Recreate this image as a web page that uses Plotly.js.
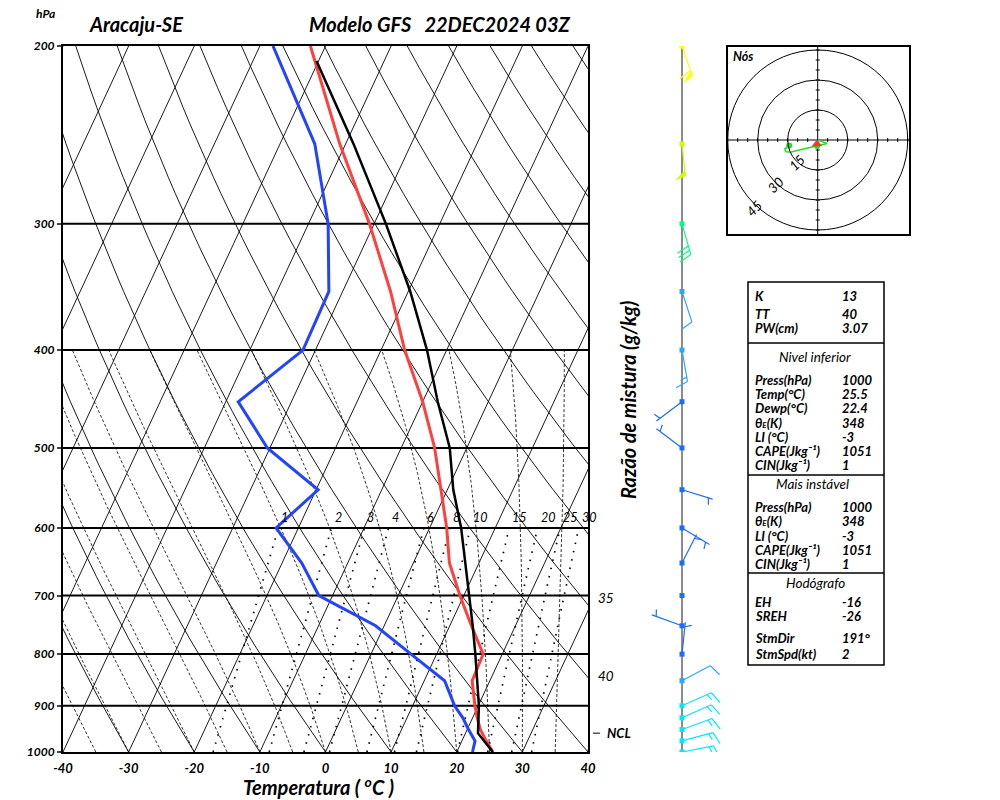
<!DOCTYPE html>
<html><head><meta charset="utf-8">
<script src="https://cdn.plot.ly/plotly-3.0.1.min.js"></script>
<style>body{margin:0;background:#fff;} #chart{width:1000px;height:800px;}</style>
</head><body><div id="chart"></div>
<script>
// ---------------- DATA ----------------
const pressureLevels = [1000,975,950,925,900,850,800,750,700,650,600,550,500,450,400,350,300,250,200];
const temperature   = [25.5,23.7,22.0,20.7,19.5,17.3,17.1,13.3,9.4,5.5,2.6,-1.0,-4.9,-10.0,-16.4,-22.7,-30.7,-40.9,-52.3];
const dewpoint      = [22.4,22.0,20.2,18.5,16.4,13.1,6.1,-1.3,-12.1,-17.0,-23.4,-19.7,-30.4,-38.1,-31.9,-32.1,-37.0,-44.7,-58.0];
const parcelPressure = [1000,958,900,850,800,750,700,650,600,550,500,450,400,350,300,250,207];
const parcelTemp     = [25.5,21.9,20.1,18.1,15.9,13.5,10.8,7.9,4.8,0.9,-2.6,-7.7,-13.0,-19.7,-28.2,-38.8,-50.3];
const windDir = [79,75,70,66,66,62,6,290,0,27,121,107,307,233,170,162,164,174,161];
const windSpd = [14.5,17,17,15,15,11,3,5,0,6,3,3,7,7,13,12,30,50,60];
const nclPressure = 958;
const hodoLevels = 9; // 1000 .. 700 hPa
const stormDir = 191, stormSpd = 2;

const pressureTicks = [200,300,400,500,600,700,800,900,1000];
const tempTicks = [-40,-30,-20,-10,0,10,20,30,40];
const mixingRatios = [1,2,3,4,6,8,10,15,20,25,30];
const hodoRings = [15,30,45];

const THE = "θ<span style='font-size:8px'>E</span>(K)";
const tableTop = [["K","13"],["TT","40"],["PW(cm)","3.07"]];
const tableLower = [["Press(hPa)","1000"],["Temp(°C)","25.5"],["Dewp(°C)","22.4"],[THE,"348"],["LI (°C)","-3"],["CAPE(Jkg⁻¹)","1051"],["CIN(Jkg⁻¹)","1"]];
const tableUnstable = [["Press(hPa)","1000"],[THE,"348"],["LI (°C)","-3"],["CAPE(Jkg⁻¹)","1051"],["CIN(Jkg⁻¹)","1"]];
const tableHodo = [["EH","-16"],["SREH","-26"],["StmDir","191°"],["StmSpd(kt)","2"]];

// ---------------- GEOMETRY ----------------
const W=1000,H=800, pL=63,pR=588,pT=46,pB=752;
const K_SKEW = 50/Math.log(5);
const pxPerLn = (pB-pT)/Math.log(5);
const fx = v=>v/W, fy = v=>1-v/H;
function skewX(T,p){ return T + K_SKEW*Math.log(1000/p); }
function tdFromW(w,p){ const e=w*p/(622+w); const l=Math.log(e/6.112); return 243.5*l/(17.67-l); }
function dTdp(Tk,p){ const Tc=Tk-273.15; const es=6.112*Math.exp(17.67*Tc/(Tc+243.5)); const rs=0.622*es/(p-es);
  const Rd=287.04,Cp=1005.7,Lv=2.501e6; return (Rd*Tk+Lv*rs)/(p*(Cp+Lv*Lv*rs*0.622/(Rd*Tk*Tk))); }

const F = (size,bold,italic)=>({family:'Lato, "Open Sans", sans-serif', size:size, color:'#000', weight: bold?'bold':'normal', style: italic?'italic':'normal'});
const traces=[];
function fam(xs,ys,line,xa,ya){ traces.push({type:'scatter',mode:'lines',x:xs,y:ys,line:line,xaxis:xa||'x',yaxis:ya||'y',hoverinfo:'skip',connectgaps:false}); }

// isotherms
{ const xs=[],ys=[]; for(let T=-120;T<=40;T+=10){ xs.push(skewX(T,1000),skewX(T,200),null); ys.push(1000,200,null);} fam(xs,ys,{color:'#000',width:0.9}); }
// dry adiabats
{ const xs=[],ys=[]; for(let th=-40;th<=200;th+=10){ for(let p=1000;p>=200;p-=10){ xs.push(skewX((th+273.15)*Math.pow(p/1000,0.2857)-273.15,p)); ys.push(p);} xs.push(null); ys.push(null);} fam(xs,ys,{color:'#000',width:0.9}); }
// moist adiabats
{ const xs=[],ys=[]; for(let tw=-40;tw<=40;tw+=5){ let T=tw+273.15,p=1000; xs.push(skewX(tw,1000)); ys.push(1000);
    while(p>400){ const dp=-5; const k1=dTdp(T,p); const k2=dTdp(T+k1*dp/2,p+dp/2); T+=k2*dp; p+=dp; xs.push(skewX(T-273.15,p)); ys.push(p);} xs.push(null); ys.push(null);} 
  fam(xs,ys,{color:'#000',width:0.8,dash:'3px,2px'}); }
// mixing ratio
{ const xs=[],ys=[]; mixingRatios.forEach(w=>{ for(let p=1000;p>=600;p-=10){ xs.push(skewX(tdFromW(w,p),p)); ys.push(p);} xs.push(null); ys.push(null);});
  fam(xs,ys,{color:'#000',width:1.7,dash:'1.5px,7px'}); }
// isobars
{ const xs=[],ys=[]; pressureTicks.slice(1,-1).forEach(p=>{xs.push(-40,40,null); ys.push(p,p,null);}); fam(xs,ys,{color:'#000',width:2}); }

// profiles
traces.push({type:'scatter',mode:'lines',x:dewpoint.map((t,i)=>skewX(t,pressureLevels[i])),y:pressureLevels,line:{color:'#2244ff',width:3},hoverinfo:'skip'});
traces.push({type:'scatter',mode:'lines',x:temperature.map((t,i)=>skewX(t,pressureLevels[i])),y:pressureLevels,line:{color:'#ff4040',width:3},hoverinfo:'skip'});
traces.push({type:'scatter',mode:'lines',x:parcelTemp.map((t,i)=>skewX(t,parcelPressure[i])),y:parcelPressure,line:{color:'#000',width:2.5},hoverinfo:'skip'});

// NCL tick
fam([593,600],[nclPressure,nclPressure],{color:'#000',width:1},'x2','y');

// ---------------- WIND BARBS ----------------
const BX=682, SHAFT=32, FULL=13, HALF=7, SP=4.5, ANG=72*Math.PI/180;
function speedColor(s){ if(s>=55) return '#ffff00'; if(s>=40) return '#ccff00'; if(s>=20) return '#00ff80'; if(s>=14) return '#00e8ff'; if(s>=10) return '#2aa8ff'; return '#1a6cff'; }
fam([BX,BX],[1000,200],{color:'#666',width:1.5},'x2','y');
pressureLevels.forEach((p0,i)=>{
  const spd=windSpd[i]; if(spd<=0) return;
  const d=windDir[i]*Math.PI/180; const sx=Math.sin(d), sy=Math.cos(d);
  const fxv=sx*Math.cos(ANG)+sy*Math.sin(ANG), fyv=-sx*Math.sin(ANG)+sy*Math.cos(ANG);
  const col=speedColor(spd);
  const P=(ox,oy)=>[BX+ox, p0*Math.exp(-oy/pxPerLn)];
  const xs=[],ys=[]; const add=(a)=>{xs.push(a[0]);ys.push(a[1]);};
  add(P(0,0)); add(P(SHAFT*sx,SHAFT*sy)); xs.push(null); ys.push(null);
  let r=Math.round(spd/5)*5; let n50=Math.floor(r/50); r-=n50*50; let n10=Math.floor(r/10); r-=n10*10; let n5=r>=5?1:0;
  let pos=0;
  for(let k=0;k<n50;k++){
    const a=SHAFT-pos, b=SHAFT-pos-5;
    const A=[a*sx,a*sy], B=[b*sx,b*sy], C=[A[0]+FULL*0.75*fxv, A[1]+FULL*0.75*fyv];
    const tri=[P(A[0],A[1]),P(C[0],C[1]),P(B[0],B[1]),P(A[0],A[1])];
    traces.push({type:'scatter',mode:'lines',x:tri.map(t=>t[0]),y:tri.map(t=>t[1]),fill:'toself',fillcolor:col,line:{color:col,width:1},xaxis:'x2',yaxis:'y',hoverinfo:'skip'});
    pos+=6;
  }
  for(let k=0;k<n10;k++){ const a=SHAFT-pos; add(P(a*sx,a*sy)); add(P(a*sx+FULL*fxv,a*sy+FULL*fyv)); xs.push(null); ys.push(null); pos+=SP; }
  if(n5){ if(pos===0) pos=SP; const a=SHAFT-pos; add(P(a*sx,a*sy)); add(P(a*sx+HALF*fxv,a*sy+HALF*fyv)); xs.push(null); ys.push(null); }
  fam(xs,ys,{color:col,width:1.2},'x2','y');
});
traces.push({type:'scatter',mode:'markers',x:pressureLevels.map(()=>BX),y:pressureLevels,marker:{symbol:'square',size:5,color:windSpd.map(speedColor)},xaxis:'x2',yaxis:'y',hoverinfo:'skip'});

// ---------------- HODOGRAPH ----------------
{ const xs=[],ys=[]; for(let k=-45;k<=45;k+=5){ if(k===0) continue; xs.push(k,k,null,-1,1,null); ys.push(-1,1,null,k,k,null);} 
  xs.push(-46,46,null,0,0); ys.push(0,0,null,-47.5,47); fam(xs,ys,{color:'#000',width:1},'x3','y3'); }
const hu=[],hv=[];
for(let i=0;i<hodoLevels;i++){ const d=windDir[i]*Math.PI/180; hu.push(-windSpd[i]*Math.sin(d)); hv.push(-windSpd[i]*Math.cos(d)); }
traces.push({type:'scatter',mode:'lines',x:hu,y:hv,line:{color:'#22dd22',width:1.5},xaxis:'x3',yaxis:'y3',hoverinfo:'skip'});
traces.push({type:'scatter',mode:'markers',x:[hu[0],hu[6]],y:[hv[0],hv[6]],marker:{color:'#22dd22',size:6},xaxis:'x3',yaxis:'y3',hoverinfo:'skip'});
{ const d=stormDir*Math.PI/180; traces.push({type:'scatter',mode:'markers',x:[stormSpd*Math.sin(d)],y:[stormSpd*Math.cos(d)],marker:{symbol:'triangle-up',color:'#ff3333',size:9},xaxis:'x3',yaxis:'y3',hoverinfo:'skip'}); }

// ---------------- ANNOTATIONS & SHAPES ----------------
const ann=[]; const shapes=[];
const A=(text,x,y,opt)=>ann.push(Object.assign({text:text,x:fx(x),y:fy(y),xref:'paper',yref:'paper',showarrow:false,xanchor:'center',yanchor:'middle',borderpad:0,font:F(12,true,true)},opt||{}));
A('hPa',45,14,{font:F(12,true,true)});
A('Aracaju-SE',136,24,{font:F(20,true,true)});
A('Modelo GFS   22DEC2024 03Z',440,24,{font:F(20,true,true)});
A('Temperatura ( <sup>o</sup>C )',318,786,{font:F(20,true,true)});
A('Razão de mistura (g/kg)',628,400,{font:F(20,true,true),textangle:-90});
ann.push({text:'NCL',x:605,y:Math.log10(nclPressure),xref:'x2',yref:'y',showarrow:false,xanchor:'left',yanchor:'middle',font:F(13,true,true)});
ann.push({text:'35',x:fx(596),y:Math.log10(704),xref:'paper',yref:'y',showarrow:false,xanchor:'left',yanchor:'middle',font:F(13.5,false,true)});
ann.push({text:'40',x:fx(596),y:Math.log10(841),xref:'paper',yref:'y',showarrow:false,xanchor:'left',yanchor:'middle',font:F(13.5,false,true)});
mixingRatios.forEach(w=>ann.push({text:String(w),x:skewX(tdFromW(w,600),600),y:Math.log10(600),xref:'x',yref:'y',showarrow:false,xanchor:'left',yanchor:'bottom',xshift:1,yshift:1,font:F(12.5,false,true)}));
// hodograph
shapes.push({type:'rect',xref:'paper',yref:'paper',x0:fx(727),x1:fx(910),y0:fy(235),y1:fy(46),line:{color:'#000',width:2}});
hodoRings.forEach(r=>{ shapes.push({type:'circle',xref:'x3',yref:'y3',x0:-r,x1:r,y0:-r,y1:r,line:{color:'#000',width:1}});
  const a=227*Math.PI/180; ann.push({text:String(r),x:r*1.03*Math.cos(a),y:r*1.03*Math.sin(a),xref:'x3',yref:'y3',showarrow:false,textangle:-45,font:F(13.5,false,true)}); });
A('Nós',743,56,{font:F(12.5,true,true)});
// table
shapes.push({type:'rect',xref:'paper',yref:'paper',x0:fx(748),x1:fx(884),y0:fy(665),y1:fy(282),line:{color:'#000',width:1.5}});
[343,475,573].forEach(y=>shapes.push({type:'line',xref:'paper',yref:'paper',x0:fx(748),x1:fx(884),y0:fy(y),y1:fy(y),line:{color:'#000',width:1.5}}));
const TF=13;
const row=(pair,y)=>{ A(pair[0],754,y,{xanchor:'left',font:F(TF,true,true)}); A(pair[1],841,y,{xanchor:'left',font:F(TF,true,true)}); };
[296,314,328].forEach((y,i)=>row(tableTop[i],y));
A('Nivel inferior',815,357,{font:F(13.5,false,true)});
[380,394,408,423,437,451,465].forEach((y,i)=>row(tableLower[i],y));
A('Mais instável',812,484,{font:F(13.5,false,true)});
[507,521,536,550,564].forEach((y,i)=>row(tableUnstable[i],y));
A('Hodógrafo',815,583,{font:F(13.5,false,true)});
[602,616,638,654].forEach((y,i)=>row(tableHodo[i],y));

const layout={
  width:W,height:H,margin:{l:0,r:0,t:0,b:0},paper_bgcolor:'#fff',plot_bgcolor:'rgba(0,0,0,0)',showlegend:false,
  xaxis:{domain:[fx(pL),fx(pR)],range:[-40,40],tickvals:tempTicks,ticktext:tempTicks.map(String),showgrid:false,zeroline:false,showline:true,linecolor:'#000',linewidth:2,mirror:true,ticks:'',ticklabelstandoff:3,tickfont:F(13,true,true),fixedrange:true},
  yaxis:{domain:[fy(pB),fy(pT)],type:'log',range:[3,Math.log10(200)],tickvals:pressureTicks,ticktext:pressureTicks.map(String),showgrid:false,zeroline:false,showline:true,linecolor:'#000',linewidth:2,mirror:true,ticks:'outside',ticklen:4,tickwidth:2,tickfont:F(12,true,true),fixedrange:true},
  xaxis2:{domain:[0.59,0.76],range:[590,760],visible:false,anchor:'y',fixedrange:true},
  xaxis3:{domain:[fx(727),fx(910)],range:[-45.35,46.15],visible:false,anchor:'y3',fixedrange:true},
  yaxis3:{domain:[fy(235),fy(46)],range:[-47.5,47],visible:false,anchor:'x3',fixedrange:true},
  annotations:ann,shapes:shapes
};
Plotly.newPlot('chart',traces,layout,{staticPlot:true,displayModeBar:false});
</script></body></html>
